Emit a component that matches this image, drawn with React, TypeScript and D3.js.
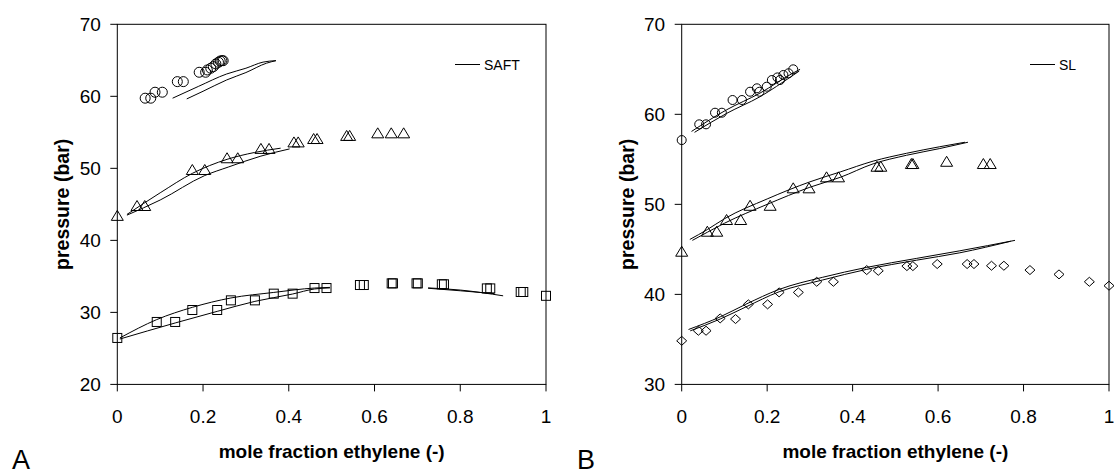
import React from "react";
import * as d3 from "d3";

type Pt = [number, number];

// ---------- Shared axes ----------
const xTicks = [0, 0.2, 0.4, 0.6, 0.8, 1];
const xTickLabels = ["0", "0.2", "0.4", "0.6", "0.8", "1"];
const yTicksA = [20, 30, 40, 50, 60, 70];
const yTicksB = [30, 40, 50, 60, 70];

// ---------- Panel A (SAFT) ----------
const circlesA: Pt[] = [
  [0.065, 59.74], [0.078, 59.74], [0.088, 60.57], [0.105, 60.57], [0.14, 62.04], [0.154, 62.04],
  [0.191, 63.34], [0.206, 63.34], [0.21, 63.66], [0.218, 63.9], [0.224, 64.12], [0.23, 64.5],
  [0.236, 64.73], [0.24, 64.9], [0.244, 64.95], [0.247, 64.95],
];
const trianglesA: Pt[] = [
  [0, 43.4], [0.046, 44.77], [0.064, 44.77], [0.175, 49.77], [0.204, 49.77], [0.256, 51.4],
  [0.281, 51.4], [0.335, 52.7], [0.354, 52.7], [0.412, 53.6], [0.422, 53.6], [0.458, 54.07],
  [0.466, 54.07], [0.535, 54.5], [0.542, 54.5], [0.6075, 54.86], [0.639, 54.86], [0.668, 54.86],
];
const squaresA: Pt[] = [
  [0, 26.45], [0.092, 28.67], [0.135, 28.67], [0.175, 30.33], [0.233, 30.33], [0.265, 31.67],
  [0.321, 31.67], [0.365, 32.6], [0.409, 32.6], [0.46, 33.38], [0.488, 33.38], [0.566, 33.8],
  [0.575, 33.8], [0.64, 34.03], [0.643, 34.03], [0.698, 34.03], [0.701, 34.03], [0.757, 33.9],
  [0.762, 33.9], [0.862, 33.33], [0.87, 33.33], [0.941, 32.83], [0.947, 32.83], [1.0, 32.3],
];
const saftCircle1: Pt[] = [[0.129, 59.74], [0.19, 61.4], [0.255, 63.1], [0.3, 63.9], [0.34, 64.75], [0.37, 64.95]];
const saftCircle2: Pt[] = [[0.162, 59.64], [0.2, 60.7], [0.255, 62.27], [0.3, 63.3], [0.348, 64.6], [0.37, 64.95]];
const saftTriangle1: Pt[] = [[0.0225, 43.6], [0.1, 46.6], [0.175, 49.3], [0.256, 51.25], [0.32, 52.2], [0.381, 52.8]];
const saftTriangle2: Pt[] = [[0.0225, 43.5], [0.1, 45.6], [0.204, 49.0], [0.26, 50.2], [0.335, 51.7], [0.402, 52.7]];
const saftSquare1: Pt[] = [[0.006, 26.45], [0.092, 29.0], [0.175, 30.7], [0.265, 32.0], [0.365, 32.77], [0.46, 33.38], [0.496, 33.47]];
const saftSquare2: Pt[] = [[0.006, 26.3], [0.135, 28.53], [0.233, 30.14], [0.321, 31.53], [0.409, 32.55], [0.46, 33.25], [0.496, 33.4]];
const saftSquare3: Pt[] = [[0.725, 33.4], [0.8, 33.1], [0.9, 32.3]];
const saftSquare4: Pt[] = [[0.725, 33.35], [0.8, 33.0], [0.88, 32.6]];

// ---------- Panel B (SL) ----------
const circlesB: Pt[] = [
  [0, 57.14], [0.041, 58.89], [0.057, 58.89], [0.078, 60.18], [0.094, 60.18], [0.119, 61.59],
  [0.141, 61.59], [0.16, 62.51], [0.176, 62.89], [0.182, 62.51], [0.199, 63.07], [0.211, 63.81],
  [0.224, 64.1], [0.23, 63.81], [0.238, 64.37], [0.25, 64.56], [0.261, 65.0],
];
const trianglesB: Pt[] = [
  [0, 44.74], [0.06, 46.96], [0.082, 46.96], [0.105, 48.26], [0.138, 48.26], [0.16, 49.84],
  [0.207, 49.84], [0.261, 51.78], [0.298, 51.78], [0.339, 53.0], [0.367, 53.0], [0.457, 54.18],
  [0.466, 54.18], [0.5375, 54.48], [0.541, 54.48], [0.62, 54.73], [0.706, 54.48], [0.722, 54.48],
];
const diamondsB: Pt[] = [
  [0, 34.84], [0.039, 35.96], [0.057, 35.96], [0.09, 37.33], [0.126, 37.26], [0.156, 38.89],
  [0.201, 38.89], [0.228, 40.22], [0.273, 40.22], [0.316, 41.4], [0.355, 41.4], [0.433, 42.7],
  [0.46, 42.62], [0.527, 43.14], [0.541, 43.14], [0.598, 43.37], [0.668, 43.37], [0.684, 43.37],
  [0.725, 43.18], [0.754, 43.18], [0.815, 42.7], [0.883, 42.22], [0.954, 41.4], [1.0, 40.96],
];
const slCircle1: Pt[] = [[0.023, 58.1], [0.105, 60.5], [0.183, 62.35], [0.261, 64.6], [0.277, 65.0]];
const slCircle2: Pt[] = [[0.03, 58.0], [0.105, 60.1], [0.183, 61.95], [0.261, 64.35], [0.275, 64.8]];
const slTriangle1: Pt[] = [[0.019, 46.1], [0.06, 47.2], [0.1, 48.4], [0.2, 50.6], [0.3, 52.5], [0.371, 53.6], [0.448, 54.8], [0.526, 55.67], [0.604, 56.4], [0.663, 56.9]];
const slTriangle2: Pt[] = [[0.025, 46.0], [0.06, 46.9], [0.1, 47.9], [0.2, 50.0], [0.3, 51.9], [0.371, 53.0], [0.448, 54.5], [0.526, 55.45], [0.604, 56.2], [0.67, 56.9]];
const slDiamond1: Pt[] = [[0.016, 36.1], [0.09, 37.5], [0.15, 38.9], [0.228, 40.55], [0.33, 41.9], [0.433, 43.0], [0.55, 44.0], [0.651, 44.84], [0.78, 46.0]];
const slDiamond2: Pt[] = [[0.02, 35.95], [0.09, 37.26], [0.15, 38.6], [0.228, 40.29], [0.33, 41.6], [0.433, 42.78], [0.55, 43.8], [0.651, 44.62], [0.77, 45.9]];

const FONT = "'Liberation Sans', Arial, Helvetica, sans-serif";
const TOP = 24.3;
const BOTTOM = 384.4;

type MarkerKind = "circle" | "triangle" | "square" | "diamond";

function Marker({ kind, x, y, r }: { kind: MarkerKind; x: number; y: number; r: number }) {
  const common = { fill: "none", stroke: "#000", strokeWidth: 1 };
  if (kind === "circle") return <circle cx={x} cy={y} r={r} {...common} />;
  if (kind === "square") return <rect x={x - 4.5} y={y - 4.5} width={9} height={9} {...common} />;
  if (kind === "triangle")
    return <path d={`M${x},${y - 5.5}L${x + 6},${y + 4.5}L${x - 6},${y + 4.5}Z`} {...common} />;
  return <path d={`M${x},${y - 4.5}L${x + 5},${y}L${x},${y + 4.5}L${x - 5},${y}Z`} {...common} />;
}

interface Series { pts: Pt[]; kind: MarkerKind; r: number }

function Panel({
  x0, x1, yDomain, yTicks, series, lines, legend, legendX, letter, letterX,
}: {
  x0: number; x1: number; yDomain: [number, number]; yTicks: number[];
  series: Series[]; lines: Pt[][]; legend: string; legendX: number; letter: string; letterX: number;
}) {
  const x = d3.scaleLinear().domain([0, 1]).range([x0, x1]);
  const y = d3.scaleLinear().domain(yDomain).range([BOTTOM, TOP]);
  const line = d3.line<Pt>().x((d) => x(d[0])).y((d) => y(d[1])).curve(d3.curveMonotoneX);
  const cx = (x0 + x1) / 2;
  const cy = (TOP + BOTTOM) / 2;
  return (
    <g>
      <rect x={x0} y={TOP} width={x1 - x0} height={BOTTOM - TOP} fill="none" stroke="#000" strokeWidth={1} />
      {yTicks.map((t) => (
        <g key={"y" + t}>
          <line x1={x0 - 7} x2={x0} y1={y(t)} y2={y(t)} stroke="#000" />
          <text x={x0 - 16.5} y={y(t)} dy="0.36em" textAnchor="end" fontSize={19} fontFamily={FONT}>{t}</text>
        </g>
      ))}
      {xTicks.map((t, i) => (
        <g key={"x" + t}>
          <line x1={x(t)} x2={x(t)} y1={BOTTOM} y2={BOTTOM + 7} stroke="#000" />
          <text x={x(t)} y={423} textAnchor="middle" fontSize={19} fontFamily={FONT}>{xTickLabels[i]}</text>
        </g>
      ))}
      <text x={cx} y={458} textAnchor="middle" fontSize={19} fontWeight="bold" fontFamily={FONT}>
        mole fraction ethylene (-)
      </text>
      <text transform={`translate(${x0 - 48},${cy}) rotate(-90)`} textAnchor="middle" fontSize={19.5} fontWeight="bold" fontFamily={FONT}>
        pressure (bar)
      </text>
      <text x={letterX} y={469} fontSize={27} fontFamily={FONT}>{letter}</text>
      {lines.map((l, i) => (
        <path key={"l" + i} d={line(l) || ""} fill="none" stroke="#000" strokeWidth={1} />
      ))}
      {series.map((s, si) =>
        s.pts.map((p, pi) => <Marker key={si + "-" + pi} kind={s.kind} x={x(p[0])} y={y(p[1])} r={s.r} />)
      )}
      <line x1={legendX} x2={legendX + 25} y1={64.5} y2={64.5} stroke="#000" />
      <text x={legendX + 29} y={69.5} fontSize={14} fontFamily={FONT}>{legend}</text>
    </g>
  );
}

export default function App() {
  return (
    <div style={{ position: "absolute", left: 0, top: 0 }}>
      <svg width={1114} height={474} style={{ display: "block", background: "#fff" }}>
        <rect width={1114} height={474} fill="#fff" />
        <Panel
          x0={117.3} x1={546} yDomain={[20, 70]} yTicks={yTicksA}
          series={[
            { pts: circlesA, kind: "circle", r: 5 },
            { pts: trianglesA, kind: "triangle", r: 5 },
            { pts: squaresA, kind: "square", r: 5 },
          ]}
          lines={[saftCircle1, saftCircle2, saftTriangle1, saftTriangle2, saftSquare1, saftSquare2, saftSquare3, saftSquare4]}
          legend="SAFT" legendX={455} letter="A" letterX={12}
        />
        <Panel
          x0={681.7} x1={1109} yDomain={[30, 70]} yTicks={yTicksB}
          series={[
            { pts: circlesB, kind: "circle", r: 4.5 },
            { pts: trianglesB, kind: "triangle", r: 5 },
            { pts: diamondsB, kind: "diamond", r: 5 },
          ]}
          lines={[slCircle1, slCircle2, slTriangle1, slTriangle2, slDiamond1, slDiamond2]}
          legend="SL" legendX={1030} letter="B" letterX={577}
        />
      </svg>
    </div>
  );
}
